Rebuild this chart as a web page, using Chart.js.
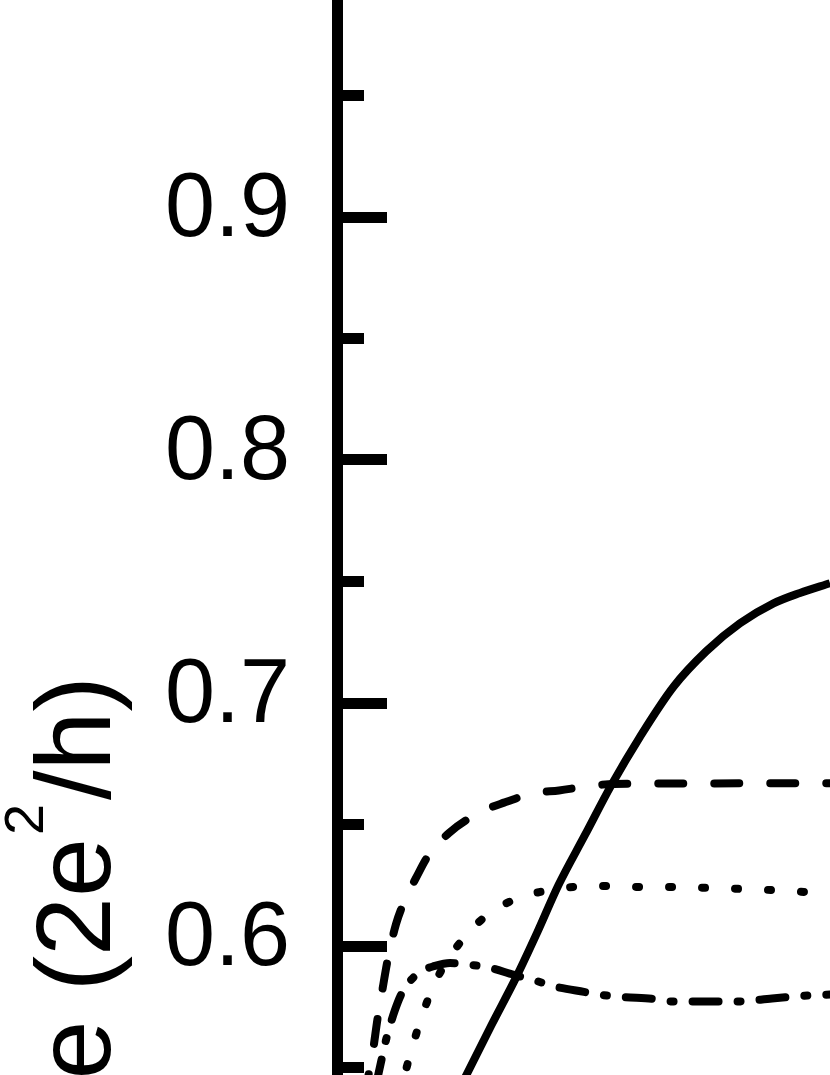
<!DOCTYPE html>
<html><head><meta charset="utf-8">
<script src="https://cdn.jsdelivr.net/npm/chart.js@4.4.1/dist/chart.umd.min.js"></script>
<style>
html,body{margin:0;padding:0;overflow:hidden;background:#fff;width:830px;height:1075px;}
#wrap{position:absolute;left:0;top:-300px;width:840px;height:1642px;}
canvas{display:block;}
</style></head><body>
<div id="wrap"><canvas id="c" width="840" height="1642"></canvas></div>
<script>
// ---- data ----
const yTickValues = [0.5, 0.6, 0.7, 0.8, 0.9, 1.0];
const yTickLabels = ['0.5', '0.6', '0.7', '0.8', '0.9', '1.0'];
const yTitleMain = 'Conductance (2e';
const yTitleSup = '2';
const yTitleEnd = '/h)';

const solidX = [1.10, 1.29, 1.54, 1.79, 2.00, 2.21, 2.475, 2.74, 3.025, 3.36, 3.69, 4.025, 4.36, 4.625, 4.925];
const solidY = [0.531, 0.547, 0.5675, 0.5874, 0.6058, 0.6251, 0.6457, 0.6663, 0.6861, 0.7067, 0.7214, 0.7328, 0.7410, 0.7453, 0.7493];

const dashedX = [0.275, 0.315, 0.355, 0.40, 0.445, 0.505, 0.585, 0.675, 0.785, 0.905, 1.115, 1.425, 1.665, 1.975, 2.215, 2.515, 2.765, 3.625, 4.925];
const dashedY = [0.537, 0.548, 0.557, 0.570, 0.581, 0.595, 0.609, 0.619, 0.628, 0.637, 0.6465, 0.655, 0.659, 0.663, 0.664, 0.6658, 0.6667, 0.6669, 0.667];

const dottedX = [0.605, 0.74, 0.835, 0.965, 1.135, 1.415, 1.745, 2.09, 2.355, 2.695, 3.045, 3.395, 3.705, 4.045, 4.355, 4.695, 4.925];
const dottedY = [0.537, 0.5572, 0.570, 0.584, 0.5963, 0.6099, 0.6187, 0.6228, 0.6243, 0.6247, 0.6243, 0.6243, 0.6239, 0.6235, 0.6230, 0.6222, 0.6218];

const dashDotX = [0.385, 0.44, 0.485, 0.575, 0.655, 0.825, 0.975, 1.125, 1.29, 1.485, 1.765, 1.975, 2.155, 2.465, 2.655, 2.855, 3.165, 3.335, 3.675, 4.015, 4.345, 4.775, 4.925];
const dashDotY = [0.5428, 0.5531, 0.5613, 0.5737, 0.5815, 0.5893, 0.5918, 0.5930, 0.5924, 0.5914, 0.5881, 0.5858, 0.5835, 0.5811, 0.5798, 0.5790, 0.5782, 0.5772, 0.5772, 0.5772, 0.5784, 0.5798, 0.5800];

// ---- helpers ----
const pts = (xs, ys) => xs.map((x, i) => ({x: x, y: ys[i]}));
const majorIndex = v => yTickValues.findIndex(t => Math.abs(t - v) < 1e-6);
const FONT = '"Liberation Sans", Arial, Helvetica, sans-serif';

const yTitlePlugin = {
  id: 'yTitle',
  afterDraw(chart) {
    const ctx = chart.ctx;
    ctx.save();
    ctx.fillStyle = '#000';
    ctx.textBaseline = 'alphabetic';
    ctx.translate(110, 300);
    ctx.rotate(-Math.PI / 2);
    ctx.font = '106px ' + FONT;
    ctx.textAlign = 'right';
    ctx.fillText(yTitleMain, -838, 0);
    ctx.font = '56px ' + FONT;
    ctx.textAlign = 'left';
    ctx.fillText(yTitleSup, -835, -67);
    ctx.font = '106px ' + FONT;
    ctx.fillText(yTitleEnd, -800, 0);
    ctx.restore();
  }
};

const lineStyle = {
  borderColor: '#000', backgroundColor: '#000', borderWidth: 8, pointRadius: 0,
  fill: false, cubicInterpolationMode: 'monotone', borderCapStyle: 'round', borderJoinStyle: 'round'
};

new Chart(document.getElementById('c'), {
  type: 'line',
  data: {
    datasets: [
      Object.assign({}, lineStyle, {label: 'solid', data: pts(solidX, solidY), borderDash: [], borderCapStyle: 'butt'}),
      Object.assign({}, lineStyle, {label: 'dashed', data: pts(dashedX, dashedY), borderDash: [25, 31]}),
      Object.assign({}, lineStyle, {label: 'dotted', data: pts(dottedX, dottedY), borderDash: [3, 30]}),
      Object.assign({}, lineStyle, {label: 'dash-dot', data: pts(dashDotX, dashDotY), borderDash: [26, 19, 3, 19]})
    ]
  },
  options: {
    responsive: false,
    animation: false,
    devicePixelRatio: 1,
    layout: {padding: {left: 0, right: 2.5, top: 152.5, bottom: 153}},
    plugins: {legend: {display: false}, tooltip: {enabled: false}, title: {display: false}},
    scales: {
      x: {type: 'linear', min: 0, max: 5, display: false},
      y: {
        type: 'linear', min: 0.5, max: 1.05,
        afterFit(s) { s.width = 337.5; },
        border: {display: true, color: '#000', width: 11},
        grid: {
          display: true, drawOnChartArea: false, drawTicks: true,
          tickLength: -49.5, tickWidth: 11, tickColor: '#000',
          tickBorderDash: c => (c.tick && majorIndex(c.tick.value) < 0) ? [40, 40] : [],
          tickBorderDashOffset: c => (c.tick && majorIndex(c.tick.value) < 0) ? 57 : 0
        },
        ticks: {
          stepSize: 0.05, autoSkip: false, padding: 97, labelOffset: -5.5, color: '#000',
          font: {family: FONT, size: 90},
          callback: v => { const i = majorIndex(v); return i >= 0 ? yTickLabels[i] : ''; }
        }
      }
    }
  },
  plugins: [yTitlePlugin]
});
</script>
</body></html>
